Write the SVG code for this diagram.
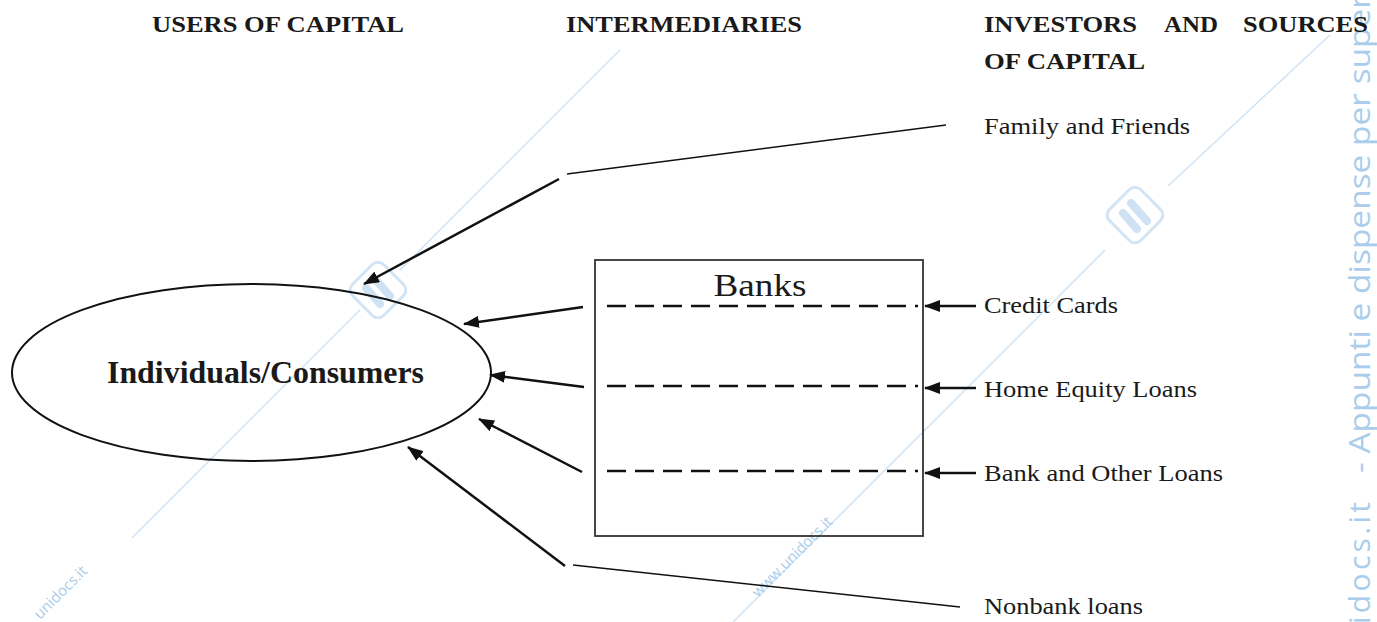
<svg xmlns="http://www.w3.org/2000/svg" width="1377" height="622" viewBox="0 0 1377 622">
<style>
.hdr{font-family:"Liberation Serif","Times New Roman",serif;font-weight:bold;font-size:23.5px;fill:#1a1a1a}
.lbl{font-family:"Liberation Serif","Times New Roman",serif;font-size:23px;fill:#1a1a1a}
.wm{font-family:"Open Sans","DejaVu Sans",sans-serif;fill:#a9cdeb}
.wml{stroke:#cfe3f5;stroke-width:1.5;fill:none}
.arr{stroke:#111;stroke-width:2.5;fill:none;marker-end:url(#ah)}
.thin{stroke:#111;stroke-width:1.5;fill:none}
.dash{stroke:#111;stroke-width:2.5;stroke-dasharray:19 9;fill:none}
</style>
<defs>
<marker id="ah" markerUnits="userSpaceOnUse" markerWidth="16" markerHeight="12" refX="15" refY="6" orient="auto">
<path d="M0,0 L16,6 L0,12 z" fill="#111"/>
</marker>
<g id="logo">
<rect x="-22" y="-22" width="44" height="44" rx="8" transform="rotate(45)" fill="#fff" stroke="#d3e5f5" stroke-width="3"/>
<line x1="-12" y1="-2" x2="2" y2="14" stroke="#cfe2f4" stroke-width="8" stroke-linecap="round"/>
<line x1="-4" y1="-12" x2="12" y2="6" stroke="#cfe2f4" stroke-width="8" stroke-linecap="round"/>
</g>
</defs>
<rect width="1377" height="622" fill="#fff"/>

<g id="watermark">
<line class="wml" x1="132" y1="538" x2="360" y2="310"/>
<line class="wml" x1="400" y1="270" x2="620" y2="50"/>
<line class="wml" x1="733" y1="622" x2="1105" y2="250"/>
<line class="wml" x1="1168" y1="186" x2="1330" y2="35"/>
<use href="#logo" x="378" y="290"/>
<use href="#logo" x="1135" y="215"/>
<text class="wm" font-size="15" transform="translate(40,620) rotate(-45)">unidocs.it</text>
<text class="wm" font-size="15" transform="translate(758,598) rotate(-45)">www.unidocs.it</text>
<text class="wm" font-size="30" transform="translate(1370,624) rotate(-90)" textLength="122">idocs.it</text>
<text class="wm" font-size="30" transform="translate(1370,473) rotate(-90)" textLength="478" lengthAdjust="spacingAndGlyphs">- Appunti e dispense per super</text>
</g>

<g id="headers">
<text class="hdr" x="152" y="32" textLength="252" lengthAdjust="spacingAndGlyphs">USERS OF CAPITAL</text>
<text class="hdr" x="566" y="32" textLength="236" lengthAdjust="spacingAndGlyphs">INTERMEDIARIES</text>
<text class="hdr" x="984" y="32" textLength="153" lengthAdjust="spacingAndGlyphs">INVESTORS</text>
<text class="hdr" x="1164" y="32" textLength="54" lengthAdjust="spacingAndGlyphs">AND</text>
<text class="hdr" x="1243" y="32" textLength="125" lengthAdjust="spacingAndGlyphs">SOURCES</text>
<text class="hdr" x="984" y="69" textLength="161" lengthAdjust="spacingAndGlyphs">OF CAPITAL</text>
</g>

<g id="consumers">
<ellipse cx="251.5" cy="372.5" rx="239.5" ry="88.5" fill="none" stroke="#111" stroke-width="2"/>
<text x="107" y="383" font-family="'Liberation Serif','Times New Roman',serif" font-weight="bold" font-size="31" fill="#1a1a1a" textLength="317" lengthAdjust="spacingAndGlyphs">Individuals/Consumers</text>
</g>

<g id="banks">
<rect x="595" y="260" width="328" height="276" fill="none" stroke="#333" stroke-width="1.8"/>
<text x="760" y="296" text-anchor="middle" font-family="'Liberation Serif','Times New Roman',serif" font-size="32" fill="#1a1a1a" textLength="93" lengthAdjust="spacingAndGlyphs">Banks</text>
<line class="dash" x1="607" y1="306" x2="918" y2="306"/>
<line class="dash" x1="607" y1="386" x2="918" y2="386"/>
<line class="dash" x1="607" y1="471" x2="918" y2="471"/>
</g>

<g id="sources">
<text class="lbl" x="984" y="134" textLength="206" lengthAdjust="spacingAndGlyphs">Family and Friends</text>
<text class="lbl" x="984" y="313" textLength="134" lengthAdjust="spacingAndGlyphs">Credit Cards</text>
<text class="lbl" x="984" y="397" textLength="213" lengthAdjust="spacingAndGlyphs">Home Equity Loans</text>
<text class="lbl" x="984" y="481" textLength="239" lengthAdjust="spacingAndGlyphs">Bank and Other Loans</text>
<text class="lbl" x="984" y="614" textLength="159" lengthAdjust="spacingAndGlyphs">Nonbank loans</text>
</g>

<g id="connectors">
<line class="thin" x1="946" y1="125" x2="567" y2="174"/>
<line class="arr" x1="559" y1="179" x2="364" y2="284"/>
<line class="arr" x1="583" y1="307" x2="464" y2="324"/>
<line class="arr" x1="584" y1="387" x2="490" y2="375"/>
<line class="arr" x1="582" y1="472" x2="479" y2="419"/>
<line class="arr" x1="565" y1="566" x2="408" y2="447"/>
<line class="thin" x1="573" y1="565" x2="960" y2="607"/>
<line class="arr" x1="976" y1="306" x2="925" y2="306"/>
<line class="arr" x1="976" y1="388" x2="925" y2="388"/>
<line class="arr" x1="976" y1="473" x2="925" y2="473"/>
</g>
</svg>
